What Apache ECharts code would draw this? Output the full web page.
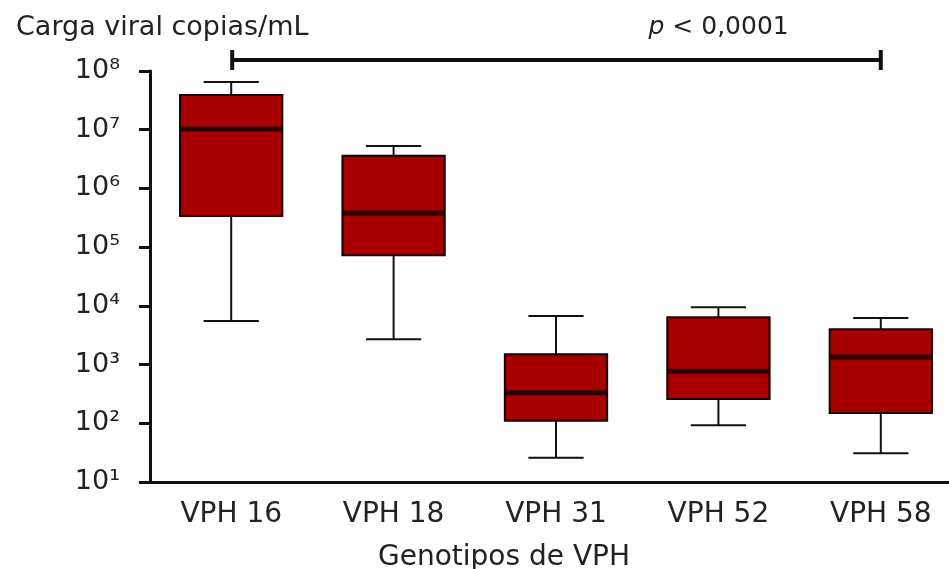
<!DOCTYPE html>
<html>
<head>
<meta charset="utf-8">
<script src="https://cdn.jsdelivr.net/npm/echarts@6/dist/echarts.min.js"></script>
<style>
  html, body { margin: 0; padding: 0; background: #fff; overflow: hidden; }
  #grafico { width: 962px; height: 569px; }
</style>
</head>
<body>
<div id="grafico"></div>
<script>
// genotipos e valores (copias/mL)
var categorias = ['VPH 16', 'VPH 18', 'VPH 31', 'VPH 52', 'VPH 58'];
var bigodeMin = [5500, 2700, 26, 93, 31];
var quartil1 = [340000, 73000, 110, 260, 150];
var mediana = [10300000, 380000, 330, 770, 1340];
var quartil3 = [39000000, 3600000, 1500, 6400, 4000];
var bigodeMax = [65000000, 5300000, 6700, 9500, 6200];

var yTicks = ['10¹', '10²', '10³', '10⁴', '10⁵', '10⁶', '10⁷', '10⁸'];
var sigDe = 'VPH 16';
var sigAte = 'VPH 58';
var sigTexto = 'p < 0,0001';

var fonte = 'DejaVu Sans';
var myChart = echarts.init(document.getElementById('grafico'));

var dadosBox = [];
categorias.forEach(function (c, i) {
    dadosBox.push([i, bigodeMin[i], quartil1[i], mediana[i], quartil3[i], bigodeMax[i]]);
});

function desenhaBox(params, api) {
    var x = api.value(0);
    var pMin = api.coord([x, api.value(1)]);
    var pQ1 = api.coord([x, api.value(2)]);
    var pMed = api.coord([x, api.value(3)]);
    var pQ3 = api.coord([x, api.value(4)]);
    var pMax = api.coord([x, api.value(5)]);
    var banda = api.size([1, 1])[0];
    var meiaBox = banda * 0.315;
    var meioCap = banda * 0.17;
    var cx = pMed[0];
    var linha = { stroke: '#111', lineWidth: 2 };
    return {
        type: 'group',
        children: [
            { type: 'line', shape: { x1: cx, y1: pMin[1], x2: cx, y2: pQ1[1] }, style: linha },
            { type: 'line', shape: { x1: cx, y1: pQ3[1], x2: cx, y2: pMax[1] }, style: linha },
            { type: 'line', shape: { x1: cx - meioCap, y1: pMin[1], x2: cx + meioCap, y2: pMin[1] }, style: linha },
            { type: 'line', shape: { x1: cx - meioCap, y1: pMax[1], x2: cx + meioCap, y2: pMax[1] }, style: linha },
            {
                type: 'rect',
                shape: { x: cx - meiaBox, y: pQ3[1], width: meiaBox * 2, height: pQ1[1] - pQ3[1] },
                style: { fill: '#a80000', stroke: '#1a0000', lineWidth: 2 }
            },
            { type: 'line', shape: { x1: cx - meiaBox, y1: pMed[1], x2: cx + meiaBox, y2: pMed[1] }, style: { stroke: '#2a0000', lineWidth: 5 } }
        ]
    };
}

function desenhaSig(params, api) {
    var topo = api.coord([api.value(0), 1e8]);
    var fim = api.coord([api.value(1), 1e8]);
    var x0 = topo[0] + 1;
    var x1 = fim[0];
    var y = topo[1] - 11;
    var preto = { stroke: '#111', lineWidth: 4 };
    var txt = { fontSize: 25, fontFamily: fonte, fill: '#222' };
    return {
        type: 'group',
        children: [
            { type: 'line', shape: { x1: x0, y1: y, x2: x1, y2: y }, style: preto },
            { type: 'line', shape: { x1: x0, y1: y - 10, x2: x0, y2: y + 10 }, style: preto },
            { type: 'line', shape: { x1: x1, y1: y - 10, x2: x1, y2: y + 10 }, style: preto },
            {
                type: 'text',
                style: {
                    x: x0 + (x1 - x0) * 0.75,
                    y: topo[1] - 44,
                    text: '{i|' + sigTexto.charAt(0) + '}{n|' + sigTexto.slice(1) + '}',
                    rich: {
                        i: Object.assign({ fontStyle: 'italic' }, txt),
                        n: txt
                    },
                    fontSize: 25,
                    fontFamily: fonte,
                    fill: '#222',
                    align: 'center',
                    verticalAlign: 'middle'
                }
            }
        ]
    };
}

var option = {
    animation: false,
    title: {
        text: 'Carga viral copias/mL',
        left: 11,
        top: 9,
        textStyle: { fontFamily: fonte, fontSize: 27, fontWeight: 'normal', color: '#222' }
    },
    grid: { left: 150, right: 0, top: 71, bottom: 87, containLabel: false, outerBoundsMode: 'none' },
    xAxis: {
        type: 'category',
        data: categorias,
        name: 'Genotipos de VPH',
        nameLocation: 'middle',
        nameGap: 62,
        nameTextStyle: { fontFamily: fonte, fontSize: 28, color: '#222', padding: [0, 104, 0, 0] },
        axisLine: { lineStyle: { color: '#111', width: 3 } },
        axisTick: { alignWithLabel: true, length: 7, lineStyle: { color: '#111', width: 3 } },
        axisLabel: { fontFamily: fonte, fontSize: 28, color: '#222', margin: 19 },
        splitLine: { show: false }
    },
    yAxis: {
        type: 'log',
        logBase: 10,
        min: 10,
        max: 100000000,
        axisLine: { show: true, lineStyle: { color: '#111', width: 3 } },
        axisTick: { show: true, length: 11, lineStyle: { color: '#111', width: 3 } },
        axisLabel: {
            fontFamily: fonte,
            fontSize: 27,
            color: '#222',
            margin: 30,
            formatter: function (v) {
                return yTicks[Math.round(Math.log10(v)) - 1];
            }
        },
        splitLine: { show: false },
        minorTick: { show: false }
    },
    series: [
        {
            type: 'custom',
            renderItem: desenhaBox,
            data: dadosBox,
            encode: { x: 0, y: [1, 2, 3, 4, 5] }
        },
        {
            type: 'custom',
            renderItem: desenhaSig,
            clip: false,
            data: [[categorias.indexOf(sigDe), categorias.indexOf(sigAte)]],
            encode: { x: [0, 1] }
        }
    ]
};

myChart.setOption(option);
</script>
</body>
</html>
